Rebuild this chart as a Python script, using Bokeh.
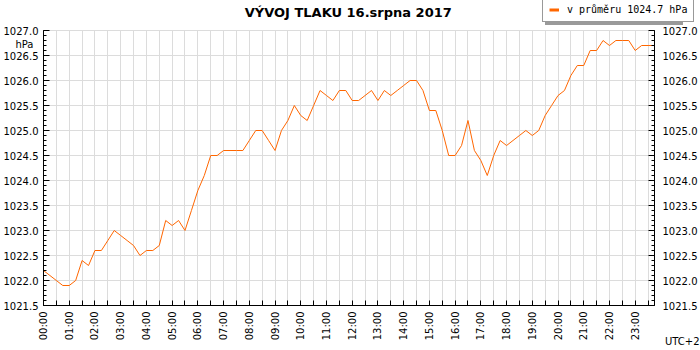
import numpy as np
from bokeh.plotting import figure
from bokeh.models import (Range1d, LinearAxis, FixedTicker, Label, Legend,
                          LegendItem, PrintfTickFormatter)
from bokeh.embed import file_html
from bokeh.resources import INLINE

# ---- data -------------------------------------------------------------
times = [f"{h:02d}:{m:02d}" for h in range(24) for m in (0, 15, 30, 45)]
pressure = [
    1022.2, 1022.1, 1022.0, 1021.9, 1021.9, 1022.0, 1022.4, 1022.3,
    1022.6, 1022.6, 1022.8, 1023.0, 1022.9, 1022.8, 1022.7, 1022.5,
    1022.6, 1022.6, 1022.7, 1023.2, 1023.1, 1023.2, 1023.0, 1023.4,
    1023.8, 1024.1, 1024.5, 1024.5, 1024.6, 1024.6, 1024.6, 1024.6,
    1024.8, 1025.0, 1025.0, 1024.8, 1024.6, 1025.0, 1025.2, 1025.5,
    1025.3, 1025.2, 1025.5, 1025.8, 1025.7, 1025.6, 1025.8, 1025.8,
    1025.6, 1025.6, 1025.7, 1025.8, 1025.6, 1025.8, 1025.7, 1025.8,
    1025.9, 1026.0, 1026.0, 1025.8, 1025.4, 1025.4, 1025.0, 1024.5,
    1024.5, 1024.7, 1025.2, 1024.6, 1024.4, 1024.1, 1024.5, 1024.8,
    1024.7, 1024.8, 1024.9, 1025.0, 1024.9, 1025.0, 1025.3, 1025.5,
    1025.7, 1025.8, 1026.1, 1026.3, 1026.3, 1026.6, 1026.6, 1026.8,
    1026.7, 1026.8, 1026.8, 1026.8, 1026.6, 1026.7, 1026.7, 1026.7,
]
tick_labels = ["00:00", "01:00", "02:00", "03:00", "04:00", "05:00",
               "06:00", "07:00", "08:00", "09:00", "10:00", "11:00",
               "12:00", "13:00", "14:00", "15:00", "16:00", "17:00",
               "18:00", "19:00", "20:00", "21:00", "22:00", "23:00"]
y_ticks = [1021.5, 1022.0, 1022.5, 1023.0, 1023.5, 1024.0,
           1024.5, 1025.0, 1025.5, 1026.0, 1026.5, 1027.0]
title_text = "VÝVOJ TLAKU  16.srpna 2017"
legend_text = "v průměru 1024.7 hPa"
unit_text = "hPa"
tz_text = "UTC+2"

# ---- layout helpers ---------------------------------------------------
W, H = 700, 350
PX_L, PX_R, PX_T, PX_B = 43, 654, 30, 305      # plot area in pixels

x_hours = [int(t[:2]) + int(t[3:]) / 60 for t in times]
x_major = [int(t[:2]) for t in tick_labels]
x_minor = [h + 0.5 for h in x_major]
y_minor = [round(v, 1) for v in np.arange(y_ticks[0], y_ticks[-1] + 0.05, 0.1)]

X0, X1 = x_hours[0], x_hours[-1]
Y0, Y1 = y_ticks[0], y_ticks[-1]
sx = (PX_R - PX_L) / (X1 - X0)
sy = (PX_B - PX_T) / (Y1 - Y0)
x_range = Range1d(X0 - PX_L / sx, X1 + (W - PX_R) / sx)
y_range = Range1d(Y0 - (H - PX_B) / sy, Y1 + PX_T / sy)

def xd(px):   # pixel column -> data x
    return X0 + (px - PX_L) / sx

def yd(py):   # pixel row -> data y
    return Y1 - (py - PX_T) / sy

FONT = "DejaVu Sans"
LINE_COLOR = "#ff6600"
GRID = "#dcdcdc"

p = figure(width=W, height=H, output_backend="svg", toolbar_location=None,
           x_range=x_range, y_range=y_range, title_location=None,
           min_border_left=0, min_border_right=0, min_border_top=0,
           min_border_bottom=0)
p.min_border = 0
p.outline_line_color = None
p.background_fill_color = "white"
p.border_fill_color = "white"

# axes (drawn at fixed data locations so the frame spans the whole canvas)
xax = p.xaxis[0]
xax.fixed_location = Y0
xax.bounds = (X0, X1)
xax.ticker = FixedTicker(ticks=x_major, minor_ticks=x_minor)
xax.major_label_overrides = {h: lab for h, lab in zip(x_major, tick_labels)}
xax.major_label_orientation = np.pi / 2
xax.major_tick_in = 5
xax.major_tick_out = 0
xax.minor_tick_in = 5
xax.minor_tick_out = 0
xax.major_label_standoff = 6

yax = p.yaxis[0]
yax_r = LinearAxis()
p.add_layout(yax_r, "right")
yax.fixed_location = X0
yax_r.fixed_location = X1
for ax in (yax, yax_r):
    ax.bounds = (Y0, Y1)
    ax.ticker = FixedTicker(ticks=y_ticks, minor_ticks=y_minor)
    ax.formatter = PrintfTickFormatter(format="%.1f")
    ax.major_tick_in = 6
    ax.major_tick_out = 0
    ax.minor_tick_in = 3
    ax.minor_tick_out = 0
yax.major_label_standoff = 5
yax_r.major_label_standoff = 8

for ax in (xax, yax, yax_r):
    ax.axis_line_color = "black"
    ax.major_tick_line_color = "black"
    ax.minor_tick_line_color = "black"
    ax.major_label_text_font = FONT
    ax.major_label_text_font_size = "10px"
    ax.major_label_text_color = "black"

# grid
p.xgrid.ticker = FixedTicker(ticks=x_major, minor_ticks=x_minor)
p.xgrid.grid_line_color = GRID
p.xgrid.minor_grid_line_color = GRID
p.ygrid.ticker = FixedTicker(ticks=y_ticks)
p.ygrid.grid_line_color = GRID
p.xgrid.bounds = (X0, X1)
p.ygrid.bounds = (Y0, Y1)
try:
    p.xgrid.cross_bounds = (Y0, Y1)
    p.ygrid.cross_bounds = (X0, X1)
except AttributeError:
    p.xgrid.visible = False
    p.ygrid.visible = False
    gx = x_major + x_minor
    p.segment(x0=gx, y0=[Y0] * len(gx), x1=gx, y1=[Y1] * len(gx),
              line_color=GRID, level="underlay")
    p.segment(x0=[X0] * len(y_ticks), y0=y_ticks, x1=[X1] * len(y_ticks),
              y1=y_ticks, line_color=GRID, level="underlay")

# data line
p.line(x_hours, pressure, line_color=LINE_COLOR, line_width=1)

# legend swatch renderers (one NaN row so the legend glyph has values)
swatch = p.line(x=[np.nan], y=[np.nan], line_color=LINE_COLOR, line_width=3)
ghost = p.line(x=[np.nan], y=[np.nan], line_color=LINE_COLOR, line_width=3,
               line_alpha=0)
common = dict(orientation="horizontal", label_text_font="DejaVu Sans Mono",
              label_text_font_size="10px", glyph_width=10, glyph_height=9,
              label_height=9, label_standoff=8, padding=6, margin=0,
              spacing=0)
shadow = Legend(items=[LegendItem(label=legend_text, renderers=[ghost])],
                location=(545, H - 25), label_text_alpha=0,
                border_line_color=None, background_fill_color="#9a9a9a",
                background_fill_alpha=1.0, **common)
legend = Legend(items=[LegendItem(label=legend_text, renderers=[swatch])],
                location=(542, H - 22), label_text_color="black",
                border_line_color="#333333", border_line_width=1,
                background_fill_color="white", background_fill_alpha=1.0,
                **common)
p.add_layout(shadow)
p.add_layout(legend)

# texts
p.add_layout(Label(x=xd(350), y=yd(12), text=title_text, text_align="center",
                   text_baseline="middle", text_font=FONT,
                   text_font_size="13px", text_font_style="bold",
                   text_color="black"))
p.add_layout(Label(x=xd(33), y=yd(44), text=unit_text, text_align="right",
                   text_baseline="middle", text_font=FONT,
                   text_font_size="10px", text_color="black"))
p.add_layout(Label(x=xd(699), y=yd(346), text=tz_text, text_align="right",
                   text_baseline="bottom", text_font=FONT,
                   text_font_size="10px", text_color="black"))

open("out.html", "w").write(file_html(p, INLINE))
